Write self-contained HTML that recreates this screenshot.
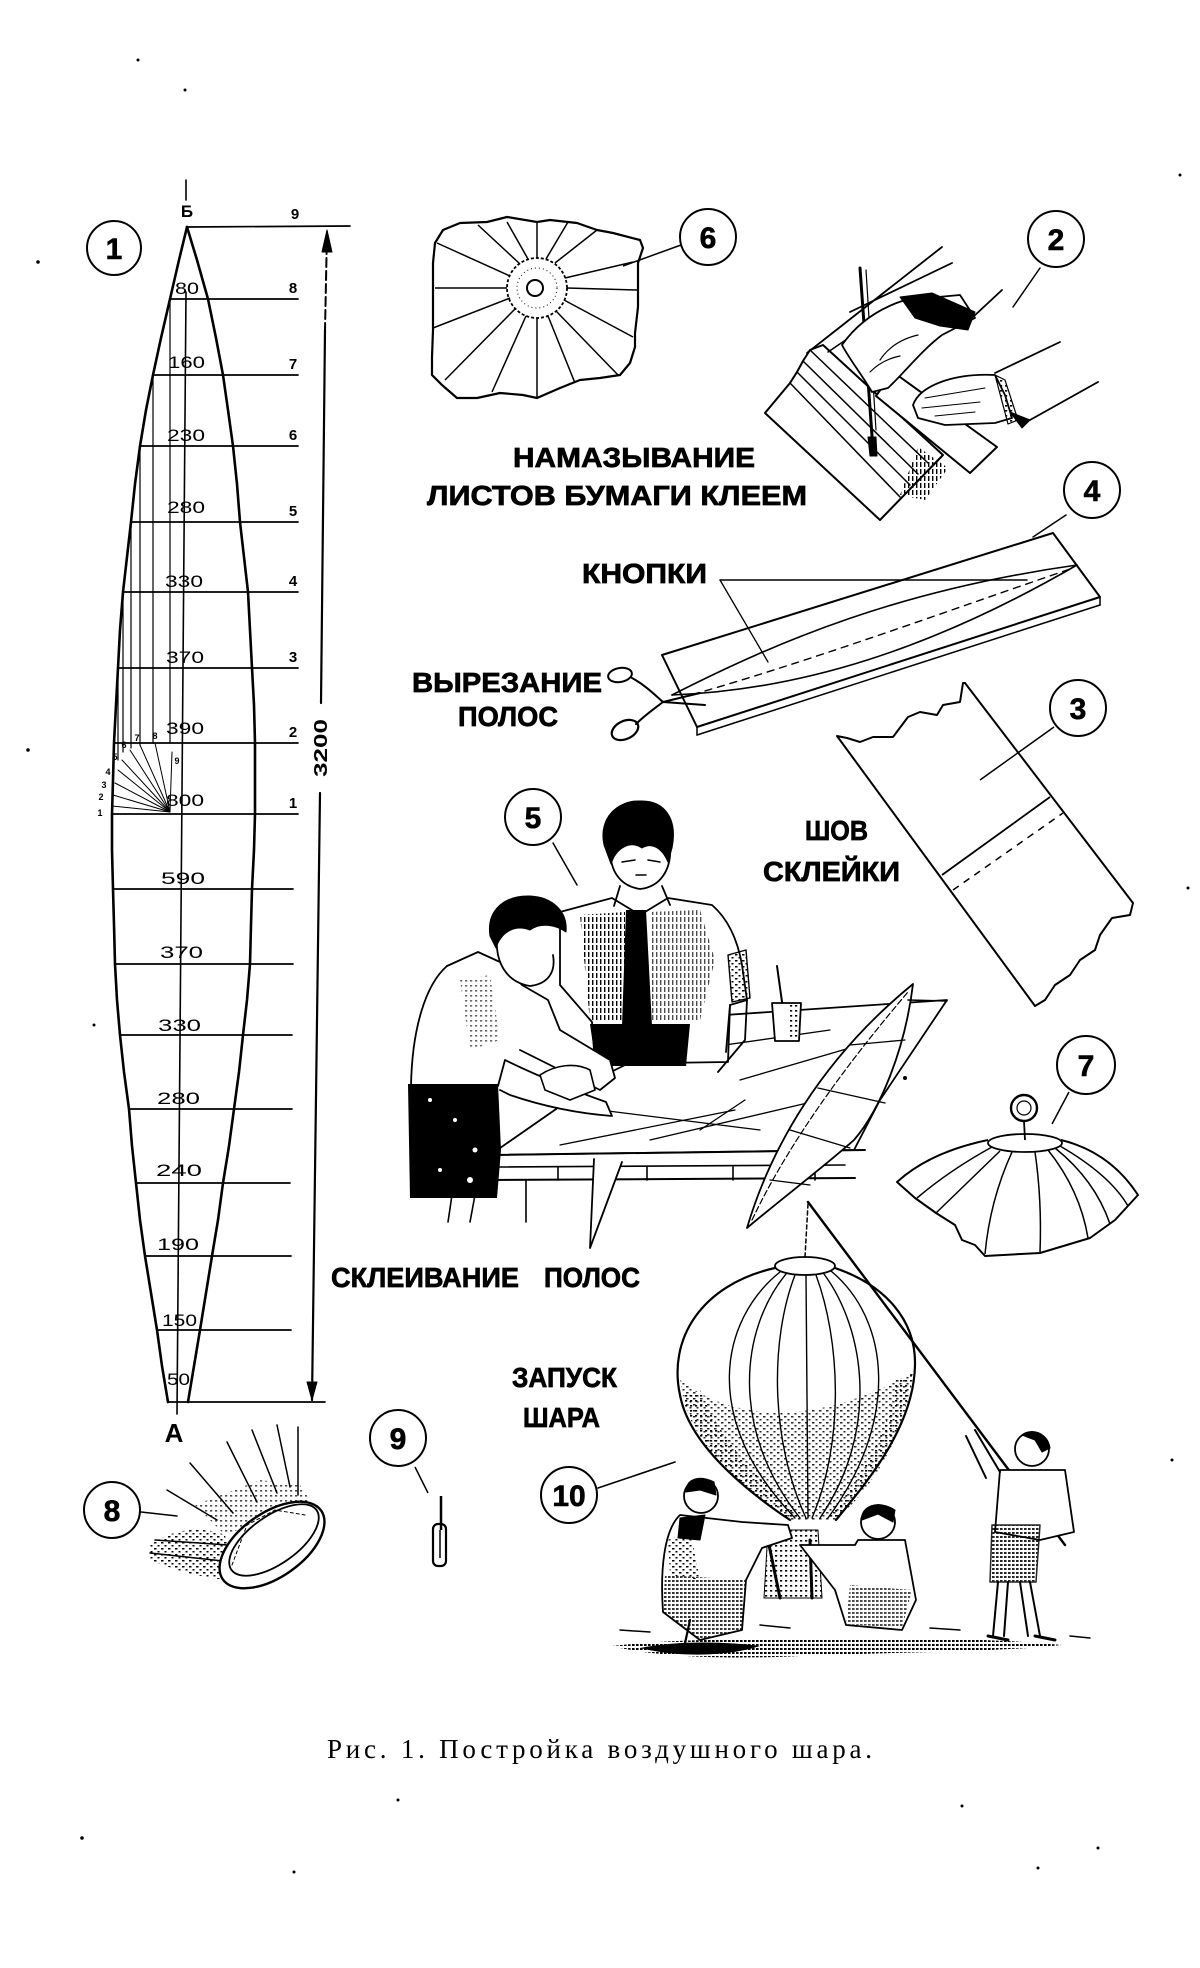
<!DOCTYPE html>
<html><head><meta charset="utf-8"><style>
html,body{margin:0;padding:0;background:#fff;}
svg{display:block;}
text{font-family:"Liberation Sans","DejaVu Sans",sans-serif;fill:#000;}
.b{font-weight:bold;}
.num{font-size:15px;font-weight:bold;}
.val{font-size:17px;}
.lab{font-weight:bold;font-size:28px;stroke:#000;stroke-width:0.7px;}
.cn{font-weight:bold;font-size:30px;stroke:#000;stroke-width:0.6px;}
</style></head><body>
<svg width="1200" height="1968" viewBox="0 0 1200 1968" xmlns="http://www.w3.org/2000/svg">
<defs>
<pattern id="dots" width="5" height="5" patternUnits="userSpaceOnUse"><rect width="2.2" height="1.6" fill="#000"/></pattern>
<pattern id="dots2" width="7" height="6" patternUnits="userSpaceOnUse"><rect width="2.5" height="1.5" fill="#000"/><rect x="3.5" y="3" width="2" height="1.5" fill="#000"/></pattern>
<pattern id="dense" width="4" height="4" patternUnits="userSpaceOnUse"><rect width="2.6" height="2" fill="#000"/></pattern>
<pattern id="hatch" width="4" height="7" patternUnits="userSpaceOnUse"><rect width="1.4" height="5" fill="#000"/></pattern>
<pattern id="hhatch" width="6" height="5" patternUnits="userSpaceOnUse"><rect width="4" height="1.4" fill="#000"/></pattern>
</defs>
<rect width="1200" height="1968" fill="#fff"/>

<!-- stray specks -->
<g fill="#000">
<circle cx="138" cy="60" r="1.5"/><circle cx="185" cy="90" r="1.5"/><circle cx="38" cy="262" r="1.8"/>
<circle cx="28" cy="750" r="1.8"/><circle cx="94" cy="1025" r="1.5"/><circle cx="1180" cy="175" r="1.5"/>
<circle cx="1188" cy="888" r="1.5"/><circle cx="1172" cy="1460" r="1.5"/><circle cx="398" cy="1800" r="1.5"/>
<circle cx="962" cy="1806" r="1.5"/><circle cx="82" cy="1838" r="1.8"/><circle cx="294" cy="1872" r="1.5"/>
<circle cx="1038" cy="1868" r="1.5"/><circle cx="1098" cy="1848" r="1.5"/><circle cx="905" cy="1078" r="2"/>
</g>

<!-- ============ FIGURE 1: GORE ============ -->
<g stroke="#000" fill="none" stroke-linejoin="round" stroke-linecap="round">
<circle cx="114" cy="248" r="27" stroke-width="2"/>
<polyline stroke-width="2.6" points="187,227 179,260 170,299 161,338 153,375 146,410 140,446 135,484 131,522 127,557 123,592 120,630 118,668 116,705 114,743 113,780 112,814 112,850 113,889 114,925 115,964 117,1000 120,1035 124,1072 129,1109 132,1146 136,1183 140,1220 145,1256 151,1293 157,1330 162,1366 168,1402"/>
<polyline stroke-width="2.6" points="187,227 197,260 208,299 216,338 223,375 228,410 233,446 237,484 240,522 244,557 248,592 250,630 252,668 254,705 255,743 255,780 255,814 254,850 252,889 251,925 250,964 247,1000 243,1035 239,1072 234,1109 229,1146 223,1183 218,1220 212,1256 206,1293 200,1330 194,1366 188,1402"/>
<g stroke-width="1.7">
<line x1="187" y1="227" x2="350" y2="226"/>
<line x1="170" y1="299" x2="298" y2="299"/>
<line x1="153" y1="375" x2="298" y2="375"/>
<line x1="140" y1="446" x2="298" y2="446"/>
<line x1="131" y1="522" x2="298" y2="522"/>
<line x1="123" y1="592" x2="298" y2="592"/>
<line x1="118" y1="668" x2="298" y2="668"/>
<line x1="114" y1="743" x2="298" y2="743"/>
<line x1="112" y1="814" x2="298" y2="814"/>
<line x1="113" y1="889" x2="293" y2="889"/>
<line x1="115" y1="964" x2="293" y2="964"/>
<line x1="120" y1="1035" x2="292" y2="1035"/>
<line x1="129" y1="1109" x2="292" y2="1109"/>
<line x1="136" y1="1183" x2="290" y2="1183"/>
<line x1="145" y1="1256" x2="291" y2="1256"/>
<line x1="157" y1="1330" x2="291" y2="1330"/>
<line x1="168" y1="1402" x2="325" y2="1402"/>
</g>
<g stroke-width="1.2">
<line x1="170" y1="299" x2="170" y2="743"/>
<line x1="153" y1="375" x2="153" y2="743"/>
<line x1="140" y1="446" x2="140" y2="745"/>
<line x1="131" y1="522" x2="131" y2="748"/>
<line x1="123" y1="592" x2="123" y2="752"/>
<line x1="118" y1="668" x2="118" y2="760"/>
</g>
<line x1="186" y1="180" x2="186" y2="200" stroke-width="1.6"/>
<line x1="186" y1="292" x2="177" y2="1414" stroke-width="1.6"/>
<g stroke-width="1">
<line x1="170" y1="812" x2="112" y2="806"/>
<line x1="170" y1="812" x2="113" y2="795"/>
<line x1="170" y1="812" x2="115" y2="783"/>
<line x1="170" y1="812" x2="118" y2="770"/>
<line x1="170" y1="812" x2="122" y2="760"/>
<line x1="170" y1="812" x2="130" y2="750"/>
<line x1="170" y1="812" x2="140" y2="745"/>
<line x1="170" y1="812" x2="155" y2="743"/>
<line x1="170" y1="812" x2="172" y2="752"/>
</g>
<line x1="327" y1="232" x2="325" y2="330" stroke-width="2" stroke-dasharray="9 4"/>
<line x1="325" y1="330" x2="321" y2="703" stroke-width="2.2"/>
<line x1="320" y1="793" x2="312" y2="1400" stroke-width="2.2"/>
<path d="M327,230 L322,252 L332,252 Z" fill="#000" stroke-width="1"/>
<path d="M312,1400 L307,1382 L317,1382 Z" fill="#000" stroke-width="1"/>
</g>
<text x="114" y="259" text-anchor="middle" class="cn">1</text>
<text x="187" y="217" text-anchor="middle" class="b" font-size="17">Б</text>
<g class="num" text-anchor="middle">
<text x="295" y="219">9</text><text x="293" y="293">8</text><text x="293" y="369">7</text>
<text x="293" y="440">6</text><text x="293" y="516">5</text><text x="293" y="586">4</text>
<text x="293" y="662">3</text><text x="293" y="737">2</text><text x="293" y="808">1</text>
</g>
<g font-size="9" font-weight="bold" text-anchor="middle">
<text x="100" y="816">1</text><text x="101" y="800">2</text><text x="104" y="788">3</text>
<text x="108" y="775">4</text><text x="115" y="760">5</text><text x="124" y="748">6</text>
<text x="137" y="741">7</text><text x="155" y="739">8</text><text x="177" y="764">9</text>
</g>
<g class="val">
<text x="175" y="294" textLength="24" lengthAdjust="spacingAndGlyphs">80</text>
<text x="168" y="368" textLength="37" lengthAdjust="spacingAndGlyphs">160</text>
<text x="167" y="441" textLength="38" lengthAdjust="spacingAndGlyphs">230</text>
<text x="167" y="513" textLength="38" lengthAdjust="spacingAndGlyphs">280</text>
<text x="165" y="587" textLength="38" lengthAdjust="spacingAndGlyphs">330</text>
<text x="166" y="663" textLength="38" lengthAdjust="spacingAndGlyphs">370</text>
<text x="166" y="734" textLength="38" lengthAdjust="spacingAndGlyphs">390</text>
<text x="166" y="806" textLength="38" lengthAdjust="spacingAndGlyphs">800</text>
<text x="161" y="884" textLength="44" lengthAdjust="spacingAndGlyphs">590</text>
<text x="160" y="958" textLength="43" lengthAdjust="spacingAndGlyphs">370</text>
<text x="158" y="1031" textLength="43" lengthAdjust="spacingAndGlyphs">330</text>
<text x="157" y="1104" textLength="43" lengthAdjust="spacingAndGlyphs">280</text>
<text x="156" y="1176" textLength="46" lengthAdjust="spacingAndGlyphs">240</text>
<text x="157" y="1250" textLength="42" lengthAdjust="spacingAndGlyphs">190</text>
<text x="162" y="1326" textLength="35" lengthAdjust="spacingAndGlyphs">150</text>
<text x="167" y="1385" textLength="23" lengthAdjust="spacingAndGlyphs">50</text>
</g>
<text x="321" y="754" text-anchor="middle" class="b" font-size="18" transform="rotate(-90 321 748)" textLength="58" lengthAdjust="spacingAndGlyphs">3200</text>
<text x="174" y="1442" text-anchor="middle" class="b" font-size="26">А</text>

<!-- ============ FIGURE 8 ============ -->
<g stroke="#000" fill="none" stroke-linecap="round">
<circle cx="112" cy="1510" r="28" stroke-width="2"/>
<line x1="141" y1="1512" x2="177" y2="1516" stroke-width="1.5"/>
<path d="M150,1545 C170,1530 200,1525 225,1535 L235,1580 C210,1580 180,1572 150,1560 Z" fill="url(#dots2)" stroke="none"/>
<path d="M195,1505 L260,1480 L300,1485 L310,1500 L250,1525 L225,1535 Z" fill="url(#dots)" stroke="none" opacity="0.7"/>
<g stroke-width="1.5">
<line x1="167" y1="1490" x2="217" y2="1520"/>
<line x1="190" y1="1463" x2="233" y2="1513"/>
<line x1="227" y1="1442" x2="257" y2="1502"/>
<line x1="252" y1="1430" x2="277" y2="1493"/>
<line x1="277" y1="1425" x2="290" y2="1487"/>
<line x1="298" y1="1427" x2="298" y2="1495"/>
<line x1="150" y1="1553" x2="232" y2="1562"/>
<line x1="155" y1="1540" x2="228" y2="1545"/>
</g>
<ellipse cx="272" cy="1545" rx="60" ry="32" transform="rotate(-35 272 1545)" stroke-width="2.4" fill="#fff"/>
<ellipse cx="274" cy="1540" rx="52" ry="24" transform="rotate(-35 274 1540)" stroke-width="1.8"/>
<path d="M232,1565 L247,1525 L275,1510 L305,1515" stroke-width="1" stroke-dasharray="3 3"/>
</g>
<text x="112" y="1521" text-anchor="middle" class="cn">8</text>

<!-- ============ FIGURE 9 ============ -->
<g stroke="#000" fill="none">
<circle cx="398" cy="1438" r="28" stroke-width="2"/>
<line x1="415" y1="1467" x2="428" y2="1493" stroke-width="1.5"/>
<line x1="441" y1="1496" x2="441" y2="1530" stroke-width="2.5"/>
<rect x="433" y="1524" width="13" height="42" rx="5" stroke-width="2.2"/>
<line x1="440" y1="1530" x2="440" y2="1558" stroke-width="1.5"/>
</g>
<text x="398" y="1449" text-anchor="middle" class="cn">9</text>

<!-- ============ FIGURE 6 ============ -->
<g stroke="#000" fill="none" stroke-linejoin="round">
<path d="M435,243 L443,230 L460,223 L487,222 L507,217 L537,222 L550,220 L577,223 L597,230 L613,233 L640,240 L643,248 L638,263 L638,290 L638,307 L635,333 L635,347 L630,363 L620,375 L600,378 L580,380 L560,388 L537,398 L523,395 L500,393 L477,398 L457,398 L442,385 L432,375 L432,357 L433,330 L433,290 L433,263 Z" stroke-width="2.2"/>
<g stroke-width="1.5">
<line x1="520" y1="264" x2="478" y2="225"/><line x1="528" y1="259" x2="507" y2="222"/>
<line x1="537" y1="258" x2="537" y2="222"/><line x1="546" y1="259" x2="568" y2="222"/>
<line x1="555" y1="263" x2="597" y2="230"/><line x1="565" y1="278" x2="633" y2="262"/>
<line x1="567" y1="288" x2="638" y2="290"/><line x1="564" y1="300" x2="633" y2="337"/>
<line x1="556" y1="311" x2="618" y2="375"/><line x1="548" y1="316" x2="575" y2="383"/>
<line x1="537" y1="318" x2="537" y2="398"/><line x1="526" y1="316" x2="492" y2="392"/>
<line x1="516" y1="308" x2="445" y2="380"/><line x1="510" y1="298" x2="433" y2="328"/>
<line x1="507" y1="288" x2="435" y2="288"/><line x1="510" y1="276" x2="437" y2="243"/>
</g>
<circle cx="537" cy="288" r="30" stroke-width="1.8" stroke-dasharray="3 2"/>
<circle cx="537" cy="288" r="20" stroke-width="1" stroke-dasharray="1 3"/>
<circle cx="535" cy="288" r="8" stroke-width="2"/>
<circle cx="708" cy="237" r="28" stroke-width="2"/>
<line x1="681" y1="245" x2="623" y2="266" stroke-width="1.5"/>
</g>
<text x="708" y="248" text-anchor="middle" class="cn">6</text>

<!-- labels -->
<text x="513" y="467" class="lab" textLength="242" lengthAdjust="spacingAndGlyphs">НАМАЗЫВАНИЕ</text>
<text x="427" y="505" class="lab" textLength="380" lengthAdjust="spacingAndGlyphs">ЛИСТОВ БУМАГИ КЛЕЕМ</text>
<text x="582" y="583" class="lab" font-size="26" textLength="125" lengthAdjust="spacingAndGlyphs">КНОПКИ</text>
<text x="412" y="692" class="lab" textLength="190" lengthAdjust="spacingAndGlyphs">ВЫРЕЗАНИЕ</text>
<text x="458" y="726" class="lab" font-size="25" textLength="100" lengthAdjust="spacingAndGlyphs">ПОЛОС</text>
<text x="805" y="840" class="lab" font-size="26" textLength="63" lengthAdjust="spacingAndGlyphs">ШОВ</text>
<text x="763" y="881" class="lab" font-size="26" textLength="137" lengthAdjust="spacingAndGlyphs">СКЛЕЙКИ</text>
<text x="331" y="1287" class="lab" textLength="188" lengthAdjust="spacingAndGlyphs">СКЛЕИВАНИЕ</text>
<text x="544" y="1287" class="lab" textLength="96" lengthAdjust="spacingAndGlyphs">ПОЛОС</text>
<text x="512" y="1387" class="lab" font-size="26" textLength="105" lengthAdjust="spacingAndGlyphs">ЗАПУСК</text>
<text x="523" y="1427" class="lab" font-size="26" textLength="77" lengthAdjust="spacingAndGlyphs">ШАРА</text>

<!-- ============ FIGURE 2: hands ============ -->
<g stroke="#000" fill="none" stroke-linejoin="round" stroke-linecap="round">
<circle cx="1056" cy="239" r="28" stroke-width="2"/>
<line x1="1040" y1="268" x2="1013" y2="307" stroke-width="1.5"/>
<line x1="807" y1="353" x2="942" y2="247" stroke-width="1.8"/>
<line x1="850" y1="312" x2="952" y2="263" stroke-width="1.8"/>
<line x1="973" y1="317" x2="1002" y2="290" stroke-width="1.8"/>
<path d="M765,413 L880,520 L943,455 L823,345 L810,350 L803,361 L797,372 L790,383 Z" fill="#fff" stroke-width="2"/>
<g stroke-width="1.5">
<line x1="790" y1="383" x2="900" y2="497"/>
<line x1="797" y1="372" x2="910" y2="485"/>
<line x1="803" y1="361" x2="918" y2="474"/>
<line x1="810" y1="350" x2="928" y2="463"/>
<line x1="828" y1="352" x2="878" y2="318"/>
</g>
<path d="M918,447 L948,468 L925,500 L900,495 Z" fill="url(#hatch)" stroke="none"/>
<path d="M893,372 L997,447 L970,473 L876,396 Z" fill="#fff" stroke-width="2"/>
<line x1="860" y1="268" x2="873" y2="450" stroke-width="3"/>
<line x1="866" y1="270" x2="876" y2="430" stroke-width="1.2"/>
<path d="M868,437 L876,437 L877,456 L870,456 Z" fill="#000"/>
<path d="M842,345 C858,322 880,308 905,300 L960,295 L975,318 L942,335 C922,350 905,372 888,388 L872,392 C862,375 850,360 842,345 Z" fill="#fff" stroke-width="1.8"/>
<path d="M900,297 L932,293 L975,312 L968,330 L940,326 L915,318 Z" fill="#000"/>
<path d="M880,360 C890,345 905,338 918,335" stroke-width="1.2"/>
<path d="M870,372 C880,362 890,358 900,356" stroke-width="1.2"/>
<line x1="995" y1="373" x2="1060" y2="342" stroke-width="1.8"/>
<line x1="1030" y1="420" x2="1098" y2="382" stroke-width="1.8"/>
<path d="M913,405 C920,385 955,373 995,375 L1005,395 L1012,418 L995,423 L945,425 L918,418 Z" fill="#fff" stroke-width="1.8"/>
<path d="M925,398 L985,388 M922,408 L980,402 M935,416 L975,412" stroke-width="1.1"/>
<path d="M995,375 L1005,380 L1018,420 L1008,424 Z" fill="url(#dots)" stroke-width="1.2"/>
<path d="M1010,412 L1030,420 L1022,428 Z" fill="#000"/>
</g>
<text x="1056" y="250" text-anchor="middle" class="cn">2</text>

<!-- ============ FIGURE 4 ============ -->
<g stroke="#000" fill="none" stroke-linejoin="round" stroke-linecap="round">
<circle cx="1092" cy="490" r="28" stroke-width="2"/>
<line x1="1066" y1="515" x2="1033" y2="537" stroke-width="1.5"/>
<path d="M662,655 L1053,533 L1100,597 L697,727 Z" stroke-width="2"/>
<line x1="697" y1="735" x2="1100" y2="605" stroke-width="1.5"/>
<line x1="697" y1="727" x2="697" y2="735" stroke-width="1.5"/>
<line x1="1100" y1="597" x2="1100" y2="605" stroke-width="1.5"/>
<path d="M672,695 C780,640 900,590 1077,565" stroke-width="1.6"/>
<path d="M672,695 C800,690 930,650 1077,565" stroke-width="1.6"/>
<path d="M680,698 C800,665 950,610 1073,568" stroke-width="1.4" stroke-dasharray="7 6"/>
<line x1="720" y1="580" x2="1027" y2="580" stroke-width="1.5"/>
<line x1="720" y1="580" x2="768" y2="662" stroke-width="1.3"/>
<ellipse cx="620" cy="675" rx="12" ry="7" transform="rotate(-10 620 675)" stroke-width="2"/>
<ellipse cx="625" cy="730" rx="14" ry="9" transform="rotate(-25 625 730)" stroke-width="2.2"/>
<path d="M632,678 C645,685 655,695 663,702 L700,693" stroke-width="2"/>
<path d="M636,724 C645,715 655,708 663,702 L705,705" stroke-width="2"/>
</g>
<text x="1092" y="501" text-anchor="middle" class="cn">4</text>

<!-- ============ FIGURE 3 ============ -->
<g stroke="#000" fill="none" stroke-linejoin="round">
<circle cx="1078" cy="708" r="28" stroke-width="2"/>
<line x1="1054" y1="727" x2="980" y2="780" stroke-width="1.5"/>
<path d="M837,736 L847,738 L860,742 L873,737 L893,737 L908,717 L920,712 L937,715 L943,705 L960,702 L963,683 L965,683 L1133,903 L1130,915 L1112,918 L1100,935 L1095,950 L1080,960 L1070,975 L1055,985 L1045,1000 L1035,1006 Z" stroke-width="2"/>
<line x1="942" y1="875" x2="1050" y2="797" stroke-width="1.8"/>
<line x1="953" y1="890" x2="1063" y2="813" stroke-width="1.5" stroke-dasharray="7 6"/>
</g>
<text x="1078" y="719" text-anchor="middle" class="cn">3</text>

<!-- ============ FIGURE 5: boys ============ -->
<g stroke="#000" fill="none" stroke-linejoin="round" stroke-linecap="round">
<circle cx="533" cy="817" r="28" stroke-width="2"/>
<line x1="553" y1="843" x2="577" y2="885" stroke-width="1.5"/>
<path d="M490,1155 L605,1075 L725,1015 L947,1000 L880,1100 L854,1150 Z" fill="#fff" stroke-width="1.8"/>
<g stroke-width="1.3">
<line x1="560" y1="1145" x2="735" y2="1110"/>
<line x1="600" y1="1110" x2="760" y2="1130"/>
<line x1="690" y1="1050" x2="830" y2="1030"/>
<line x1="740" y1="1080" x2="860" y2="1045"/>
<line x1="650" y1="1140" x2="820" y2="1100"/>
<line x1="700" y1="1130" x2="745" y2="1100"/>
</g>
<line x1="490" y1="1155" x2="865" y2="1150" stroke-width="2"/>
<line x1="490" y1="1167" x2="845" y2="1165" stroke-width="1.6"/>
<line x1="490" y1="1180" x2="855" y2="1178" stroke-width="2"/>
<g stroke-width="1.6">
<line x1="558" y1="1167" x2="558" y2="1180"/><line x1="647" y1="1167" x2="647" y2="1180"/>
<line x1="733" y1="1167" x2="733" y2="1180"/><line x1="815" y1="1167" x2="815" y2="1180"/>
<line x1="526" y1="1180" x2="526" y2="1222"/><line x1="452" y1="1195" x2="448" y2="1222"/>
<line x1="475" y1="1195" x2="470" y2="1222"/>
</g>
<path d="M594,1159 L590,1248 L622,1162" fill="#fff" stroke-width="1.8"/>
<path d="M747,1228 C770,1150 820,1060 913,984 C905,1050 880,1110 854,1140 C820,1170 780,1200 747,1228 Z" fill="#fff" stroke-width="1.8"/>
<path d="M752,1220 C790,1140 850,1060 908,992" stroke-width="1.2" stroke-dasharray="6 3"/>
<path d="M790,1130 L850,1148 M818,1088 L885,1103 M850,1045 L905,1040 M770,1180 L810,1185" stroke-width="1.3"/>
<line x1="908" y1="1000" x2="947" y2="1001" stroke-width="1.5"/>
<line x1="777" y1="966" x2="783" y2="1009" stroke-width="2"/>
<path d="M772,1003 L801,1003 L799,1041 L775,1041 Z" fill="#fff" stroke-width="1.8"/>
<path d="M788,1005 L801,1005 L799,1040 L790,1040 Z" fill="url(#dots)" stroke="none"/>
<!-- standing boy -->
<path d="M560,912 L612,898 L640,915 L668,898 L712,905 Q735,925 742,965 L747,1000 L730,1005 L728,1062 L595,1064 L592,1022 L560,985 Z" fill="#fff" stroke-width="1.8"/>
<path d="M580,915 L625,912 L625,1022 L590,1022 Z" fill="url(#hatch)" stroke="none"/>
<path d="M650,912 L700,910 L715,960 L700,1020 L650,1022 Z" fill="url(#hatch)" stroke="none" opacity="0.7"/>
<path d="M626,910 L646,910 L652,1026 L622,1026 Z" fill="#000" stroke="none"/>
<path d="M590,1024 L690,1024 L686,1066 L596,1066 Z" fill="#000" stroke="none"/>
<path d="M728,955 L746,950 L750,998 L732,1002 Z" fill="url(#dots2)" stroke-width="1.4"/>
<path d="M747,1000 L745,1040 L718,1072 M730,1005 L726,1052" stroke-width="1.8"/>
<path d="M611,845 C608,870 620,886 640,889 C660,887 672,870 670,845" fill="#fff" stroke-width="1.8"/>
<path d="M604,845 C598,818 618,800 640,801 C664,800 678,818 672,848 L668,862 C662,848 652,842 642,848 C630,840 616,848 611,864 Z" fill="#000"/>
<path d="M622,862 L635,860 M648,860 L660,862 M636,875 L646,875" stroke-width="1.5"/>
<path d="M620,886 L614,906 M662,886 L670,905" stroke-width="1.8"/>
<!-- left boy -->
<path d="M447,966 C425,985 412,1030 411,1086 L498,1086 L505,1060 Q550,1082 606,1102 L612,1116 Q560,1112 510,1095 L500,1090" fill="#fff" stroke-width="1.8"/>
<path d="M447,966 L478,952 L500,962 L522,985 L548,1000 L560,1030 L610,1060 L615,1078 L600,1090 L560,1070 L520,1050" fill="#fff" stroke-width="1.8"/>
<path d="M460,980 L490,975 L500,1040 L470,1050 Z" fill="url(#dots)" stroke="none" opacity="0.6"/>
<path d="M497,936 C495,962 506,982 530,986 C548,984 556,972 553,955" fill="#fff" stroke-width="1.8"/>
<path d="M490,936 C486,910 505,895 530,896 C553,897 568,912 566,932 C556,925 541,922 530,930 C515,924 501,932 496,948 Z" fill="#000"/>
<path d="M408,1084 L498,1084 L501,1150 L497,1198 L410,1198 Z" fill="#000" stroke="none"/>
<g fill="#fff" stroke="none"><circle cx="430" cy="1100" r="2"/><circle cx="455" cy="1120" r="2"/><circle cx="475" cy="1150" r="2.5"/><circle cx="440" cy="1170" r="2"/><circle cx="470" cy="1180" r="3"/></g>
<path d="M540,1075 C555,1065 575,1062 590,1070 L595,1090 L570,1100 L545,1090 Z" fill="#fff" stroke-width="1.6"/>
</g>
<text x="533" y="828" text-anchor="middle" class="cn">5</text>

<!-- ============ FIGURE 7 ============ -->
<g stroke="#000" fill="none" stroke-linejoin="round">
<circle cx="1086" cy="1065" r="29" stroke-width="2"/>
<line x1="1069" y1="1092" x2="1052" y2="1124" stroke-width="1.5"/>
<circle cx="1024" cy="1108" r="13" stroke-width="2.4"/>
<circle cx="1024" cy="1108" r="7" stroke-width="1.2"/>
<line x1="1024" y1="1121" x2="1025" y2="1140" stroke-width="1.8"/>
<path d="M988,1140 Q930,1152 897,1182 L915,1198 L936,1213 L955,1225 L962,1240 L975,1245 L985,1256 L1040,1253 L1090,1238 L1115,1220 L1138,1195 Q1110,1152 1061,1140" stroke-width="2"/>
<ellipse cx="1025" cy="1143" rx="37" ry="9" stroke-width="1.8"/>
<g stroke-width="1.5">
<path d="M992,1147 Q950,1170 917,1198"/>
<path d="M1000,1151 Q965,1185 936,1213"/>
<path d="M1012,1152 Q990,1200 985,1254"/>
<path d="M1035,1152 Q1042,1200 1040,1252"/>
<path d="M1048,1150 Q1080,1190 1088,1238"/>
<path d="M1055,1148 Q1095,1180 1110,1224"/>
<path d="M1060,1146 Q1110,1175 1128,1206"/>
</g>
</g>
<text x="1086" y="1076" text-anchor="middle" class="cn">7</text>

<!-- ============ FIGURE 10 ============ -->
<g stroke="#000" fill="none" stroke-linejoin="round" stroke-linecap="round">
<circle cx="569" cy="1495" r="28" stroke-width="2"/>
<line x1="598" y1="1488" x2="675" y2="1462" stroke-width="1.6"/>
<path d="M680,1380 C690,1450 760,1500 790,1520 L836,1520 C870,1490 905,1440 914,1370 C870,1400 800,1420 750,1410 C720,1405 700,1395 680,1380 Z" fill="url(#dots2)" stroke="none" opacity="0.85"/>
<path d="M682,1395 C695,1450 750,1495 790,1520 L800,1518 C760,1480 720,1440 700,1390 Z" fill="url(#dots)" stroke="none"/>
<path d="M912,1375 C905,1440 860,1490 836,1520 L828,1518 C860,1480 890,1430 896,1380 Z" fill="url(#dots)" stroke="none"/>
<path d="M775,1268 C700,1285 668,1340 680,1395 C690,1450 760,1500 790,1520" stroke-width="2.2"/>
<path d="M835,1268 C885,1285 916,1320 915,1365 C914,1430 860,1490 836,1520" stroke-width="2.2"/>
<ellipse cx="805" cy="1266" rx="30" ry="9" stroke-width="1.8"/>
<g stroke-width="1.4">
<path d="M780,1272 C720,1320 700,1420 795,1518"/>
<path d="M786,1274 C740,1330 730,1430 800,1518"/>
<path d="M795,1275 C770,1340 770,1440 806,1518"/>
<path d="M806,1275 L808,1518"/>
<path d="M816,1275 C840,1340 845,1440 812,1518"/>
<path d="M824,1274 C865,1330 880,1430 820,1518"/>
<path d="M831,1271 C890,1320 900,1420 828,1518"/>
</g>
<line x1="808" y1="1202" x2="1065" y2="1545" stroke-width="2.4"/>
<line x1="808" y1="1204" x2="805" y2="1257" stroke-width="1.5" stroke-dasharray="4 3"/>
<path d="M768,1530 L818,1530 L822,1598 L764,1598 Z" fill="url(#dots)" stroke-width="1"/>
<path d="M768,1540 L780,1598 M810,1540 L812,1598" stroke-width="3"/>
<!-- left kid -->
<path d="M680,1515 C664,1530 660,1570 663,1612 L700,1640 L742,1630 L746,1580 L762,1548 L792,1538 L788,1525 L742,1522 Z" fill="#fff" stroke-width="1.8"/>
<path d="M665,1575 L745,1580 L742,1630 L700,1640 L663,1612 Z" fill="url(#dense)" stroke="none" opacity="0.8"/>
<path d="M668,1540 L690,1530 L700,1580 L670,1575 Z" fill="url(#dots2)" stroke="none"/>
<path d="M680,1518 L705,1515 L700,1540 L678,1538 Z" fill="#000"/>
<circle cx="701" cy="1496" r="17" fill="#fff" stroke-width="1.8"/>
<path d="M686,1492 C686,1478 700,1475 714,1482 L716,1495 L700,1490 Z" fill="#000"/>
<path d="M690,1620 L684,1648 L700,1652" stroke-width="2.2"/>
<!-- right kid -->
<path d="M858,1540 L905,1540 L916,1600 L902,1630 L846,1625 L835,1590 L800,1545 L855,1545 Z" fill="#fff" stroke-width="1.8"/>
<path d="M850,1585 L912,1590 L902,1628 L846,1624 Z" fill="url(#dense)" stroke="none" opacity="0.7"/>
<circle cx="878" cy="1522" r="17" fill="#fff" stroke-width="1.8"/>
<path d="M862,1520 C860,1505 880,1500 895,1510 L893,1522 L878,1514 Z" fill="#000"/>
<!-- pole boy -->
<path d="M1000,1470 L1065,1470 L1074,1532 L1040,1540 L995,1532 Z" fill="#fff" stroke-width="1.8"/>
<path d="M992,1525 L1040,1525 L1036,1582 L990,1582 Z" fill="url(#dense)" stroke-width="1.5" opacity="0.85"/>
<circle cx="1032" cy="1449" r="17" fill="#fff" stroke-width="1.8"/>
<path d="M1022,1435 C1030,1428 1048,1432 1050,1448 L1042,1452 L1035,1440 Z" fill="#000"/>
<path d="M1000,1472 L975,1430 M986,1478 L966,1436" stroke-width="2"/>
<path d="M998,1582 L993,1636 M1008,1582 L1004,1636 M1030,1582 L1040,1636 M1020,1582 L1028,1636" stroke-width="2"/>
<path d="M988,1636 L1008,1640 M1035,1636 L1055,1640" stroke-width="3"/>
<!-- ground -->
<path d="M612,1646 C700,1636 800,1640 880,1640 C950,1638 1010,1640 1062,1645 C1000,1652 900,1652 800,1656 C720,1660 650,1656 612,1646 Z" fill="url(#dense)" stroke="none"/>
<path d="M640,1648 C680,1640 730,1642 760,1646 C730,1656 680,1658 640,1648 Z" fill="#000" stroke="none"/>
<g stroke-width="1.5"><line x1="620" y1="1630" x2="650" y2="1632"/><line x1="930" y1="1628" x2="960" y2="1630"/><line x1="1070" y1="1636" x2="1090" y2="1638"/><line x1="760" y1="1625" x2="790" y2="1628"/></g>
</g>
<text x="569" y="1506" text-anchor="middle" class="cn">10</text>

<!-- caption -->
<text x="327" y="1758" font-size="27" textLength="545" lengthAdjust="spacing" style="font-family:'Liberation Serif','DejaVu Serif',serif">Рис. 1. Постройка воздушного шара.</text>
</svg>
</body></html>
